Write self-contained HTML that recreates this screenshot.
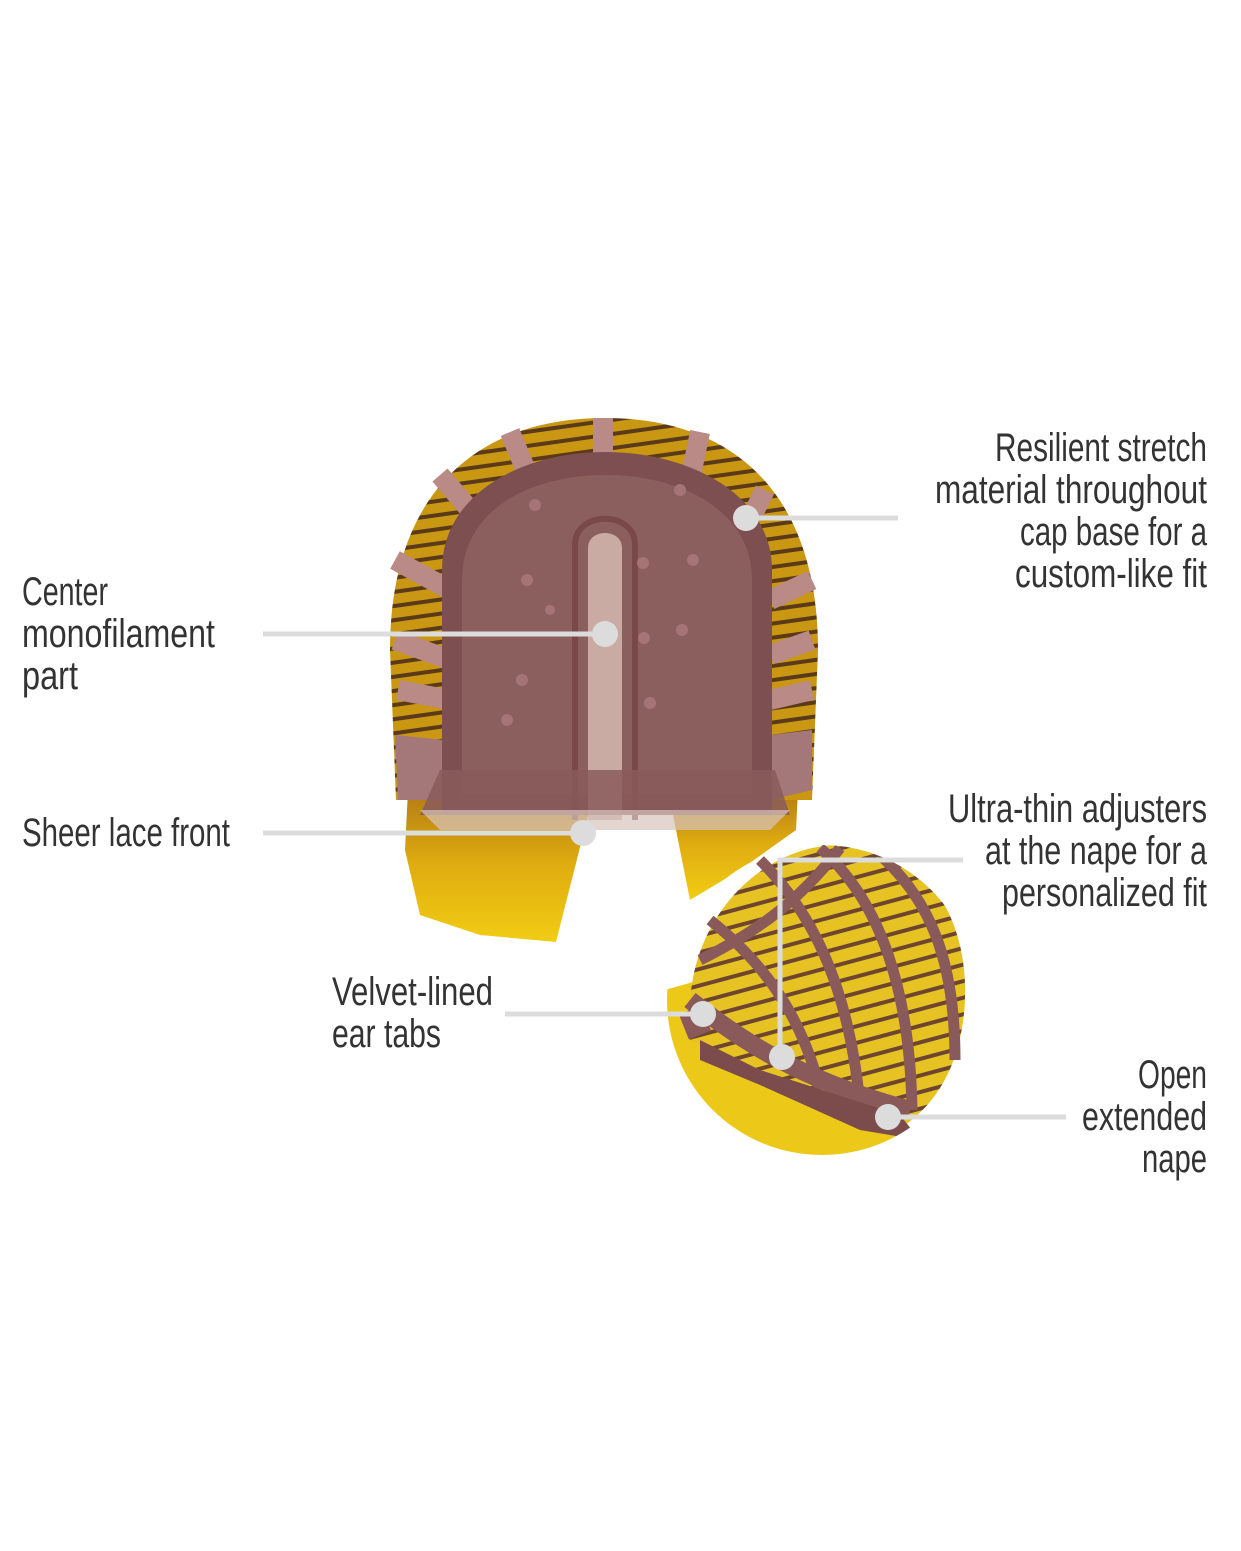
<!DOCTYPE html>
<html><head><meta charset="utf-8"><style>
html,body{margin:0;padding:0;background:#fff;}
svg{display:block;}
text{font-family:"Liberation Sans Narrow","Liberation Sans",sans-serif;font-size:40px;fill:#333;}
</style></head><body>
<svg width="1241" height="1551" viewBox="0 0 1241 1551" xmlns="http://www.w3.org/2000/svg">
<defs>
<pattern id="stripeA" width="20" height="14" patternUnits="userSpaceOnUse" patternTransform="rotate(-8)">
<rect width="20" height="14" fill="#c99712"/><rect y="9" width="20" height="4" fill="#5a3a18"/>
</pattern>
<pattern id="stripeB" width="20" height="16" patternUnits="userSpaceOnUse" patternTransform="rotate(-15)">
<rect width="20" height="16" fill="#e6c323"/><rect y="11" width="20" height="4" fill="#6e4630"/>
</pattern>
<linearGradient id="hair" x1="0" y1="0" x2="0" y2="1">
<stop offset="0" stop-color="#b27a14"/><stop offset="0.5" stop-color="#e0ad10"/><stop offset="1" stop-color="#f1cc14"/>
</linearGradient>
<clipPath id="circ"><circle cx="822" cy="1000" r="155"/></clipPath>
</defs>

<path d="M408 790 L592 800 L556 942 L480 935 L420 915 L405 850 Z" fill="url(#hair)"/>
<path d="M670 800 L798 790 L796 830 L740 870 L690 900 Z" fill="url(#hair)"/>
<path d="M396 800 L390 650 C390 495 475 418 605 418 C735 418 818 495 818 650 L812 800 Z" fill="url(#stripeA)"/>
<g stroke="#b98a86" stroke-width="20" fill="none">
<line x1="603" y1="418" x2="603" y2="470"/>
<line x1="510" y1="432" x2="530" y2="480"/>
<line x1="700" y1="432" x2="690" y2="480"/>
<line x1="440" y1="475" x2="470" y2="510"/>
<line x1="765" y1="490" x2="750" y2="520"/>
<line x1="395" y1="560" x2="450" y2="590"/>
<line x1="395" y1="640" x2="450" y2="660"/>
<line x1="398" y1="690" x2="450" y2="700"/>
<line x1="812" y1="580" x2="770" y2="600"/>
<line x1="812" y1="640" x2="770" y2="655"/>
<line x1="812" y1="690" x2="770" y2="700"/>
</g>
<path d="M395 735 L445 740 L445 800 L398 800 Z" fill="#a47878"/>
<path d="M812 730 L770 735 L770 800 L812 790 Z" fill="#a47878"/>
<path d="M442 815 L442 570 C442 495 520 452 605 452 C690 452 772 495 772 570 L772 815 Z" fill="#7e4f50"/>
<path d="M462 795 L462 580 C462 510 530 475 605 475 C680 475 752 510 752 580 L752 795 Z" fill="#8e6262" opacity="0.85"/>
<path d="M588 820 L588 548 C588 528 622 528 622 548 L622 820 Z" fill="#c9aba3"/>
<path d="M575 820 L575 545 C575 510 635 510 635 545 L635 820" fill="none" stroke="#7a4848" stroke-width="6"/>
<g fill="#a57476">
<circle cx="535" cy="505" r="6"/><circle cx="680" cy="490" r="6"/><circle cx="527" cy="580" r="6"/><circle cx="643" cy="563" r="6"/>
<circle cx="682" cy="630" r="6"/><circle cx="522" cy="680" r="6"/><circle cx="644" cy="638" r="6"/><circle cx="650" cy="703" r="6"/>
<circle cx="693" cy="560" r="6"/><circle cx="507" cy="720" r="6"/><circle cx="550" cy="610" r="5"/>
</g>
<path d="M440 770 L775 770 L790 815 L420 815 Z" fill="#8a5b5b" opacity="0.85"/>
<path d="M420 810 L790 810 L770 830 L440 830 Z" fill="#d7c5bd" opacity="0.7"/>

<g clip-path="url(#circ)">
<rect x="660" y="840" width="320" height="320" fill="#fff"/>
<path d="M665 990 L700 980 L760 1060 L900 1120 L930 1160 L660 1160 Z" fill="#ecc918"/>
<path d="M690 1010 C690 920 760 845 840 845 C920 845 968 910 965 1000 C962 1060 940 1100 905 1125 L860 1110 L760 1070 L690 1040 Z" fill="url(#stripeB)"/>
<g stroke="#8a5a5a" stroke-width="11" fill="none">
<path d="M700 960 C760 930 800 900 840 848"/>
<path d="M760 860 C820 920 850 1000 860 1105"/>
<path d="M820 848 C880 900 910 990 912 1110"/>
<path d="M880 855 C930 900 955 960 955 1060"/>
<path d="M710 920 C760 960 800 1010 820 1090"/>
<path d="M690 1000 C740 1040 800 1080 910 1110" stroke-width="18"/>
<path d="M690 1010 L700 1035" stroke-width="24"/>
</g>
<path d="M700 1040 L760 1070 L900 1115 L920 1140 L860 1130 L760 1085 L700 1060 Z" fill="#7c4c4c"/>
</g>

<g stroke="#dcdcdc" stroke-width="5" fill="none">
<line x1="263" y1="634" x2="605" y2="634"/>
<line x1="263" y1="833" x2="583" y2="833"/>
<line x1="746" y1="518" x2="898" y2="518"/>
<polyline points="963,860 780,860 780,1057"/>
<line x1="505" y1="1014" x2="703" y2="1014"/>
<line x1="888" y1="1117" x2="1066" y2="1117"/>
</g>
<g fill="#dcdcdc">
<circle cx="605" cy="634" r="13"/><circle cx="583" cy="833" r="13"/><circle cx="746" cy="518" r="13"/>
<circle cx="782" cy="1057" r="13"/><circle cx="703" cy="1014" r="13"/><circle cx="888" cy="1117" r="13"/>
</g>

<g>
<text x="22" y="605" textLength="86" lengthAdjust="spacingAndGlyphs">Center</text>
<text x="22" y="647" textLength="193" lengthAdjust="spacingAndGlyphs">monofilament</text>
<text x="22" y="689" textLength="56" lengthAdjust="spacingAndGlyphs">part</text>
<text x="22" y="846" textLength="208" lengthAdjust="spacingAndGlyphs">Sheer lace front</text>
<text x="995" y="461" textLength="212" lengthAdjust="spacingAndGlyphs">Resilient stretch</text>
<text x="935" y="503" textLength="272" lengthAdjust="spacingAndGlyphs">material throughout</text>
<text x="1020" y="545" textLength="187" lengthAdjust="spacingAndGlyphs">cap base for a</text>
<text x="1015" y="587" textLength="192" lengthAdjust="spacingAndGlyphs">custom-like fit</text>
<text x="948" y="822" textLength="259" lengthAdjust="spacingAndGlyphs">Ultra-thin adjusters</text>
<text x="985" y="864" textLength="222" lengthAdjust="spacingAndGlyphs">at the nape for a</text>
<text x="1002" y="906" textLength="205" lengthAdjust="spacingAndGlyphs">personalized fit</text>
<text x="332" y="1005" textLength="161" lengthAdjust="spacingAndGlyphs">Velvet-lined</text>
<text x="332" y="1047" textLength="109" lengthAdjust="spacingAndGlyphs">ear tabs</text>
<text x="1138" y="1088" textLength="69" lengthAdjust="spacingAndGlyphs">Open</text>
<text x="1082" y="1130" textLength="125" lengthAdjust="spacingAndGlyphs">extended</text>
<text x="1142" y="1172" textLength="65" lengthAdjust="spacingAndGlyphs">nape</text>
</g>
</svg>
</body></html>
